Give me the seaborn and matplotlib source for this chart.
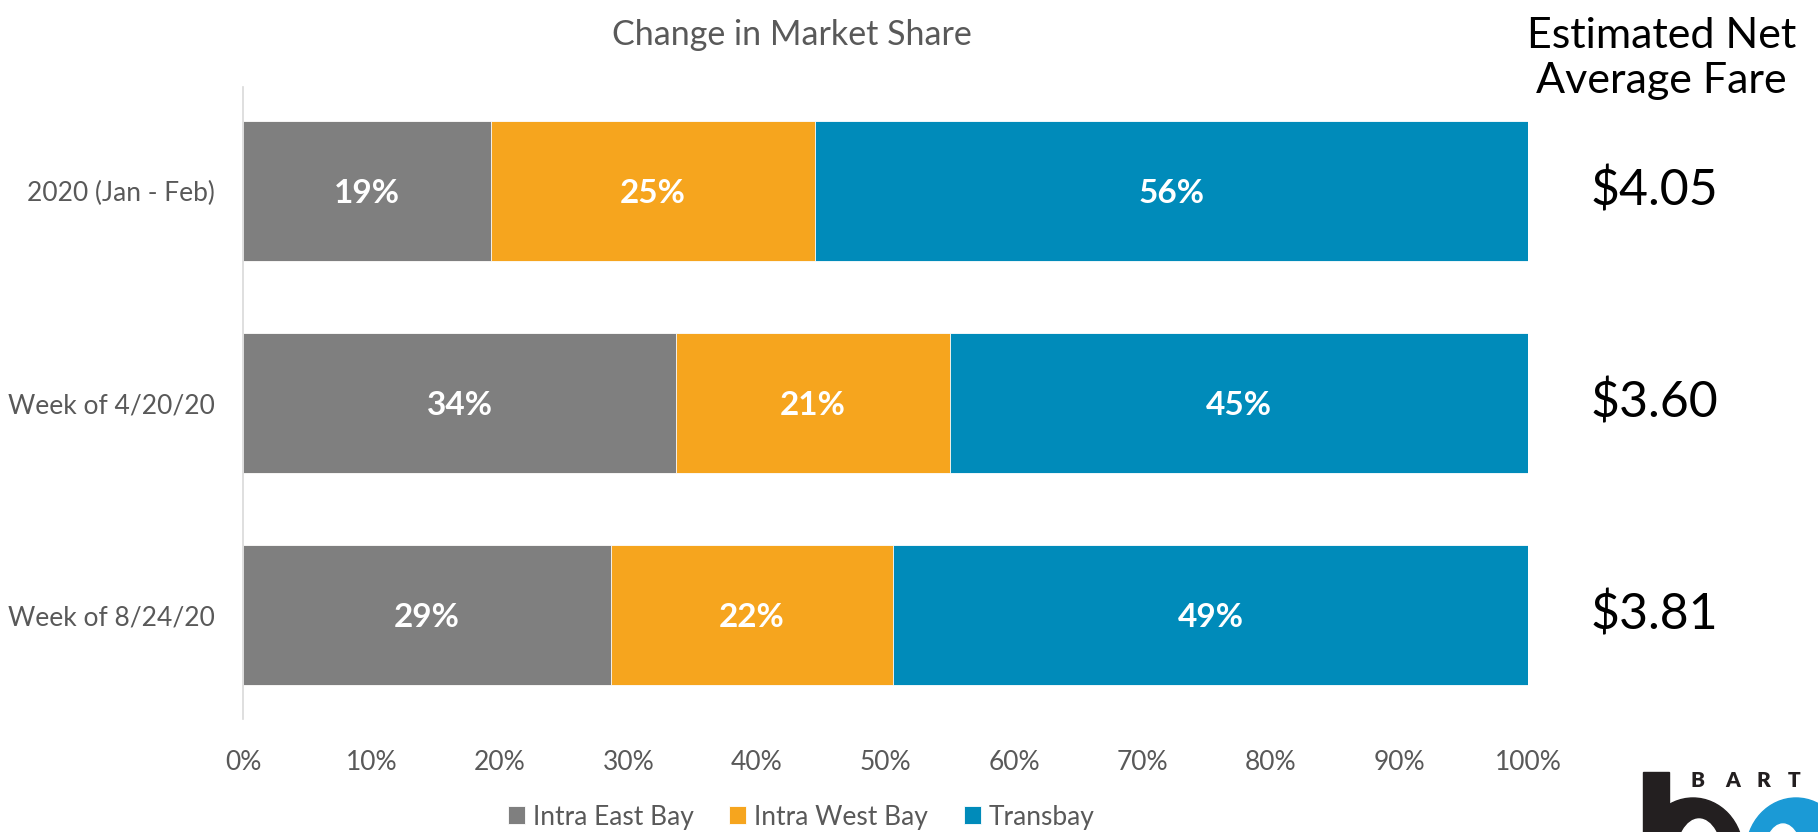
import pandas as pd
import matplotlib.pyplot as plt
import matplotlib.patches as mpatches
import seaborn as sns

# data
periods = ["2020 (Jan - Feb)", "Week of 4/20/20", "Week of 8/24/20"]
intra_east = [19.3, 33.7, 28.6]
intra_west = [25.2, 21.3, 22.0]
transbay = [55.5, 45.0, 49.4]
share_labels = [["19%", "25%", "56%"], ["34%", "21%", "45%"], ["29%", "22%", "49%"]]
fares = ["$4.05", "$3.60", "$3.81"]
segments = ["Intra East Bay", "Intra West Bay", "Transbay"]
colors = ["#7F7F7F", "#F6A51E", "#008BBA"]

sns.set_style("white")
plt.rcParams["font.family"] = ["Lato", "DejaVu Sans"]

df = pd.DataFrame({"period": periods, "east": intra_east, "west": intra_west, "trans": transbay})
df["c1"] = df["east"]
df["c2"] = df["east"] + df["west"]
df["c3"] = df["c2"] + df["trans"]

fig = plt.figure(figsize=(18.18, 8.32), dpi=100)
ax = fig.add_axes([0.1337, 0.1358, 0.7068, 0.7596])

# stacked bars: draw the cumulative totals back to front
for col, color, lab in zip(["c3", "c2", "c1"], colors[::-1], segments[::-1]):
    sns.barplot(data=df, x=col, y="period", color=color, width=0.66, orient="h",
                saturation=1, ax=ax, label=lab, edgecolor="white", linewidth=0.6)

# percentage labels in the middle of each segment
for i in range(len(periods)):
    starts = [0, df["c1"][i], df["c2"][i]]
    widths = [df["east"][i], df["west"][i], df["trans"][i]]
    for j in range(3):
        ax.text(starts[j] + widths[j] / 2, i + 0.01, share_labels[i][j], ha="center", va="center",
                color="white", fontsize=24, fontweight="bold")

ax.set_xlim(0, 100)
ax.set_ylim(2.49, -0.49)
ax.set_xticks(range(0, 101, 10))
ax.set_xticklabels([f"{v}%" for v in range(0, 101, 10)])
ax.set_xlabel("")
ax.set_ylabel("")
ax.tick_params(axis="both", length=0, labelsize=19, labelcolor="#595959")
ax.tick_params(axis="x", pad=22)
ax.tick_params(axis="y", pad=20)
for s in ["top", "right", "bottom"]:
    ax.spines[s].set_visible(False)
ax.spines["left"].set_color("#D9D9D9")
ax.spines["left"].set_linewidth(1.2)

# legend in segment order
handles, labels = ax.get_legend_handles_labels()
ax.legend(handles[::-1], labels[::-1], loc="center", bbox_to_anchor=(0.4407, 0.018),
          bbox_transform=fig.transFigure, ncol=3, frameon=False, fontsize=19,
          handlelength=0.65, handleheight=0.65, handletextpad=0.3, columnspacing=1.35,
          labelcolor="#595959", borderpad=0)

fig.text(0.4356, 0.958, "Change in Market Share", ha="center", va="center", fontsize=24.5, color="#595959")
fig.text(0.914, 0.930, "Estimated Net\nAverage Fare", ha="center", va="center", fontsize=31,
         color="black", linespacing=1.22)
for i, f in enumerate(fares):
    ax.text(1.098, i, f, transform=ax.get_yaxis_transform(), ha="center", va="center",
            fontsize=36, color="black")

# BART logo, cropped at the figure corner like the reference
lx = fig.add_axes([1600 / 1818, 0, 218 / 1818, 92 / 832])
lx.set_xlim(1600, 1818)
lx.set_ylim(832, 740)
lx.axis("off")
lx.add_patch(mpatches.Ellipse((1693, 852), 100, 108, color="#231F20"))
lx.add_patch(mpatches.Ellipse((1699, 860), 46, 82, color="white"))
lx.add_patch(mpatches.Rectangle((1643, 772), 26, 60, color="#231F20"))
lx.add_patch(mpatches.Ellipse((1796, 852), 100, 108, color="#1B9AD6"))
lx.add_patch(mpatches.Ellipse((1783, 862), 40, 76, color="white"))
for x, ch in zip([1697, 1733, 1763, 1794], "BART"):
    lx.text(x, 780, ch, ha="center", va="center", fontsize=15, fontweight="heavy", color="#231F20")

fig.savefig("out.png", dpi=100)
